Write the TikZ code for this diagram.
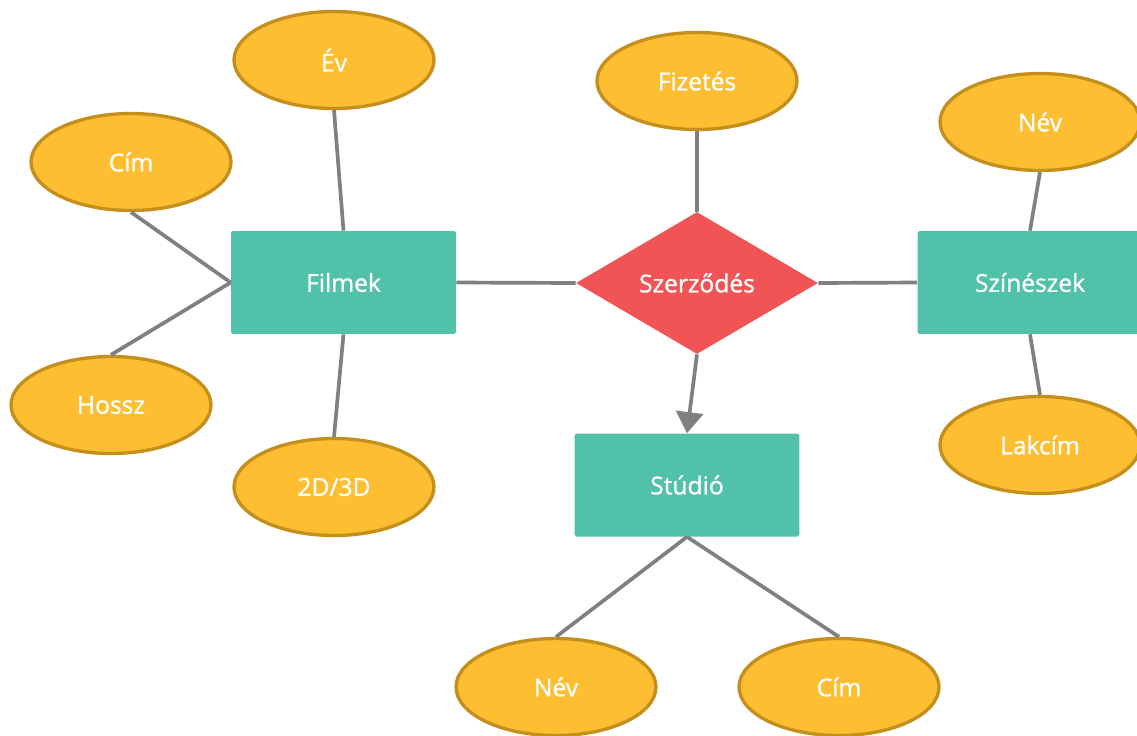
\documentclass[tikz,border=0pt]{standalone}
\usepackage{fontspec}
\setmainfont{Open Sans}
\newfontfamily\labelfont{Open Sans}[FakeBold=1]
\usetikzlibrary{shapes.geometric,arrows.meta}
\definecolor{attrfill}{HTML}{FDBE32}
\definecolor{attrline}{HTML}{C48F1C}
\definecolor{entfill}{HTML}{52C1AA}
\definecolor{relfill}{HTML}{F05455}
\definecolor{linkgray}{HTML}{808080}
\tikzset{
  labeltext/.style={text=white, font=\labelfont\fontsize{14}{16}\selectfont},
  attr/.style={ellipse, fill=attrfill, draw=attrline, line width=1.9pt,
    minimum width=4.0cm, minimum height=1.94cm, inner sep=0pt, labeltext},
  entity/.style={rectangle, rounded corners=1pt, fill=entfill,
    minimum width=4.5cm, minimum height=2.06cm, inner sep=0pt, labeltext},
  relation/.style={diamond, fill=relfill, minimum width=4.84cm,
    minimum height=2.84cm, inner sep=0pt, labeltext},
  link/.style={draw=linkgray, line width=2.1pt},
}
\begin{document}
\begin{tikzpicture}[x=0.02cm,y=-0.02cm]
\useasboundingbox[fill=white] (0,0) rectangle (1137,735);

% entities and relationship
\node[entity] (filmek) at (343.5,282.5) {Filmek};
\node[relation] (szerz) at (697,283) {Szerződés};
\node[entity] (szin) at (1030,282.5) {Színészek};
\node[entity] (studio) at (687,485) {Stúdió};

% attributes
\node[attr] (ev) at (334,60) {Év};
\node[attr] (cim1) at (131,162) {Cím};
\node[attr] (hossz) at (111,405) {Hossz};
\node[attr] (dim) at (334,487) {2D/3D};
\node[attr] (fiz) at (697,81) {Fizetés};
\node[attr] (nev1) at (1040,122) {Név};
\node[attr] (lak) at (1040,445) {Lakcím};
\node[attr] (nev2) at (556,687) {Név};
\node[attr] (cim2) at (839,687) {Cím};

% connectors
\draw[link] (ev.south) -- (filmek.north);
\draw[link] (cim1.south) -- (filmek.west);
\draw[link] (hossz.north) -- (filmek.west);
\draw[link] (dim.north) -- (filmek.south);
\draw[link] (filmek.east) -- (szerz.west);
\draw[link] (szerz.east) -- (szin.west);
\draw[link] (fiz.south) -- (szerz.north);
\draw[link, -{Triangle[width=0.54cm,length=0.42cm]}] (szerz.south) -- (studio.north);
\draw[link] (nev1.south) -- (szin.north);
\draw[link] (szin.south) -- (lak.north);
\draw[link] (studio.south) -- (nev2.north);
\draw[link] (studio.south) -- (cim2.north);
\end{tikzpicture}
\end{document}
